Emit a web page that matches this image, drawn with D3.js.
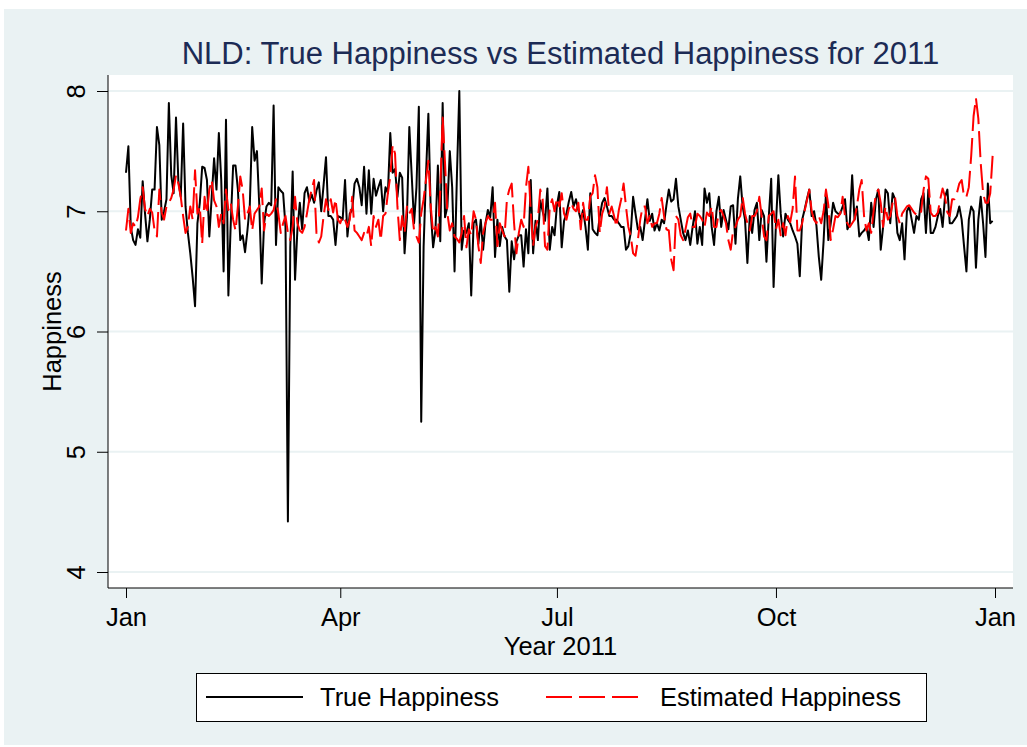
<!DOCTYPE html>
<html>
<head>
<meta charset="utf-8">
<script src="https://cdn.jsdelivr.net/npm/d3@7"></script>
<style>
  body { margin: 0; background: #ffffff; }
  text { font-family: "Liberation Sans", Arial, sans-serif; }
</style>
</head>
<body>
<div id="chart"></div>
<script>
// chart text
const chartTitle = 'NLD: True Happiness vs Estimated Happiness for 2011';
const xTitle = 'Year 2011';
const yTitle = 'Happiness';
const seriesNames = ['True Happiness', 'Estimated Happiness'];

// x axis: one value per day starting Jan 1 2011
const startDate = new Date(2011, 0, 1);
const tickDates = [new Date(2011, 0, 1), new Date(2011, 3, 1), new Date(2011, 6, 1), new Date(2011, 9, 1), new Date(2012, 0, 1)];
const tickLabels = ['Jan', 'Apr', 'Jul', 'Oct', 'Jan'];
const yTicks = [4, 5, 6, 7, 8];

// True Happiness, daily
const trueVals = [
  7.32, 7.54, 6.87, 6.76, 6.72, 6.85, 6.78, 7.25, 6.98, 6.75,
  6.93, 7.18, 7.18, 7.70, 7.55, 6.93, 7.00, 7.10, 7.90, 7.30,
  7.15, 7.78, 7.25, 7.12, 7.73, 7.04, 6.82, 6.65, 6.45, 6.21,
  6.90, 7.07, 7.37, 7.36, 7.26, 6.79, 7.12, 7.44, 7.18, 7.65,
  7.26, 6.50, 7.76, 6.30, 6.90, 7.38, 7.38, 7.18, 6.76, 6.80,
  6.66, 6.84, 7.05, 7.70, 7.42, 7.50, 7.04, 6.40, 6.90, 7.04,
  7.07, 7.05, 7.88, 6.72, 7.20, 7.17, 7.15, 6.87, 4.42, 6.70,
  7.33, 6.43, 6.85, 7.07, 6.85, 7.15, 7.20, 7.08, 7.14, 7.07,
  7.17, 7.24, 7.00, 7.22, 7.45, 6.96, 6.96, 6.93, 6.72, 6.96,
  6.95, 6.93, 7.26, 6.79, 6.98, 7.01, 7.23, 7.27, 7.20, 7.05,
  7.37, 6.98, 7.34, 6.98, 7.27, 7.13, 7.20, 7.26, 7.00, 7.20,
  7.15, 7.65, 7.32, 7.35, 7.12, 7.32, 7.28, 6.65, 6.95, 7.70,
  7.30, 6.90, 7.20, 7.87, 5.25, 6.70, 7.30, 7.81, 7.00, 6.70,
  6.85, 7.38, 6.75, 7.90, 6.95, 7.04, 7.50, 7.20, 6.50, 7.30,
  8.00, 6.68, 6.84, 6.82, 6.90, 6.30, 6.90, 6.93, 6.73, 6.93,
  6.68, 6.90, 7.01, 6.95, 7.20, 6.62, 6.93, 6.71, 6.87, 6.79,
  6.76, 6.33, 6.75, 6.60, 6.75, 6.80, 6.80, 6.54, 6.85, 6.65,
  7.26, 6.65, 6.92, 6.76, 7.09, 7.00, 6.92, 7.19, 6.68, 6.87,
  6.80, 7.05, 7.16, 6.70, 6.92, 6.98, 7.08, 7.16, 7.04, 7.10,
  7.01, 6.93, 7.01, 6.87, 6.68, 7.15, 6.85, 6.82, 6.80, 6.96,
  7.07, 7.11, 7.04, 6.96, 6.96, 6.93, 6.93, 6.90, 6.87, 6.87,
  6.68, 6.71, 6.82, 7.12, 6.98, 6.85, 6.87, 6.76, 6.93, 7.10,
  6.92, 6.98, 6.84, 6.90, 6.84, 6.93, 6.90, 7.05, 7.18, 7.08,
  7.10, 7.27, 7.04, 6.93, 6.82, 6.76, 6.84, 6.72, 6.87, 7.00,
  6.73, 6.87, 6.72, 7.19, 7.07, 7.15, 6.87, 6.72, 7.00, 7.12,
  6.87, 7.01, 6.93, 6.85, 7.04, 7.05, 6.73, 7.10, 7.29, 7.04,
  6.93, 6.57, 6.96, 6.82, 7.01, 7.07, 6.76, 7.01, 6.96, 6.58,
  6.96, 7.27, 6.37, 6.90, 7.30, 6.98, 6.79, 6.98, 6.93, 6.90,
  6.84, 6.79, 6.73, 6.46, 6.93, 7.01, 7.10, 7.18, 6.96, 7.00,
  6.88, 6.62, 6.43, 6.75, 7.15, 6.76, 6.90, 7.07, 7.00, 6.98,
  6.98, 7.04, 7.10, 6.85, 6.90, 7.30, 6.93, 7.04, 6.79, 6.82,
  6.84, 6.87, 6.76, 7.07, 6.87, 7.10, 7.18, 6.68, 6.87, 7.18,
  7.15, 6.90, 7.15, 7.10, 6.82, 6.76, 6.90, 6.60, 7.00, 7.04,
  6.93, 6.82, 6.96, 6.93, 7.10, 7.15, 6.82, 7.18, 6.82, 6.82,
  6.87, 6.96, 7.02, 6.87, 7.12, 7.18, 6.90, 6.90, 6.93, 6.96,
  7.04, 6.93, 6.71, 6.50, 6.93, 7.04, 7.00, 6.53, 6.93, 7.12,
  6.90, 6.62, 7.23, 6.90, 6.92
];

// Estimated Happiness, daily
const estVals = [
  6.84, 7.02, 6.82, 6.90, 6.87, 6.95, 7.10, 7.20, 7.02, 6.96,
  7.02, 6.99, 6.84, 6.79, 7.18, 6.99, 6.93, 7.04, 7.07, 7.11,
  7.18, 7.30, 7.23, 7.12, 6.96, 6.82, 6.87, 7.04, 6.93, 7.34,
  6.98, 7.04, 6.73, 7.12, 6.98, 7.18, 7.26, 7.09, 7.04, 6.87,
  6.98, 6.90, 7.18, 7.01, 7.07, 6.93, 6.84, 7.04, 7.29, 7.18,
  6.93, 6.98, 7.04, 6.84, 6.98, 7.01, 7.04, 7.19, 6.84, 6.98,
  6.96, 6.98, 7.01, 7.10, 6.98, 6.82, 6.90, 6.96, 6.82, 6.76,
  6.87, 7.12, 6.90, 6.84, 6.82, 6.87, 6.98, 7.10, 7.18, 7.26,
  6.82, 6.74, 6.79, 6.96, 7.10, 7.01, 7.10, 6.99, 7.10, 6.93,
  6.90, 6.96, 6.93, 6.87, 6.93, 7.12, 6.84, 6.82, 6.79, 6.76,
  6.82, 6.79, 6.87, 6.71, 6.96, 6.87, 6.93, 6.76, 6.96, 6.98,
  7.15, 7.29, 7.55, 7.48, 7.04, 6.76, 6.96, 6.82, 7.04, 6.98,
  7.02, 6.84, 6.79, 6.74, 6.98, 7.10, 7.26, 7.42, 7.04, 6.82,
  6.87, 6.79, 7.18, 7.78, 7.40, 6.98, 6.84, 6.90, 6.79, 6.77,
  6.74, 6.82, 6.96, 6.70, 6.85, 6.80, 7.00, 6.93, 6.71, 6.57,
  6.82, 6.90, 6.96, 6.93, 6.93, 7.07, 6.71, 6.90, 6.84, 6.79,
  7.10, 7.18, 7.23, 6.90, 6.65, 6.82, 6.93, 6.87, 7.20, 7.37,
  7.00, 6.71, 6.87, 6.93, 7.18, 7.10, 6.71, 6.68, 7.04, 7.10,
  7.00, 7.11, 7.04, 7.15, 6.98, 6.93, 7.02, 7.07, 7.02, 7.00,
  7.07, 6.85, 7.07, 6.93, 6.93, 7.12, 7.15, 7.30, 7.20, 6.82,
  6.98, 7.04, 7.20, 6.98, 7.04, 6.96, 6.87, 7.01, 7.10, 7.23,
  7.04, 6.87, 6.79, 6.65, 6.63, 6.76, 6.93, 7.04, 7.04, 6.90,
  6.96, 6.87, 6.90, 6.90, 6.98, 7.11, 6.96, 6.85, 6.84, 6.60,
  6.51, 6.96, 6.93, 6.80, 6.76, 6.85, 6.95, 6.98, 6.87, 6.87,
  6.98, 6.96, 6.93, 6.87, 6.99, 6.96, 7.04, 6.87, 6.87, 6.99,
  7.01, 6.96, 6.90, 6.76, 6.68, 6.84, 6.87, 6.93, 6.96, 7.12,
  6.98, 6.90, 6.84, 6.96, 6.96, 7.00, 7.12, 6.96, 6.79, 6.76,
  6.96, 6.98, 7.00, 6.85, 6.93, 6.80, 6.90, 6.80, 6.96, 6.91,
  7.02, 7.29, 6.84, 6.84, 6.90, 7.00, 7.09, 7.18, 7.00, 6.93,
  6.90, 6.96, 6.90, 7.00, 7.18, 7.05, 6.76, 6.85, 6.96, 6.95,
  6.98, 7.12, 6.96, 6.90, 6.87, 6.90, 6.93, 7.04, 7.18, 7.26,
  6.96, 6.84, 6.90, 6.82, 7.00, 7.15, 7.18, 7.07, 6.87, 7.04,
  6.93, 6.96, 7.07, 7.12, 6.96, 6.90, 6.98, 7.01, 7.04, 7.05,
  7.02, 6.99, 6.97, 6.96, 7.00, 7.18, 7.29, 7.27, 6.99, 6.96,
  6.96, 6.99, 7.10, 7.19, 7.12, 6.99, 6.96, 7.10, 7.10, 7.15,
  7.23, 7.26, 7.12, 7.12, 7.20, 7.46, 7.79, 7.94, 7.77, 7.40,
  7.15, 7.07, 7.07, 7.15, 7.46
];

const width = 1027;
const height = 747;
const plot = { left: 108, right: 1013, top: 75, bottom: 588 };
const bgColor = '#eaf2f3';
const dash = '26,7';
const labelSize = '25.5px';

const svg = d3.select('#chart')
  .append('svg')
  .attr('width', width)
  .attr('height', height);

// graph region + plot region
svg.append('rect')
  .attr('x', 4).attr('y', 9)
  .attr('width', width - 4).attr('height', 736)
  .attr('fill', bgColor);

svg.append('rect')
  .attr('x', plot.left).attr('y', plot.top)
  .attr('width', plot.right - plot.left).attr('height', plot.bottom - plot.top)
  .attr('fill', '#ffffff');

// scales
const x = d3.scaleTime()
  .domain([tickDates[0], tickDates[tickDates.length - 1]])
  .range([126, 995]);

const y = d3.scaleLinear()
  .domain([4, 8])
  .range([572, 91]);

// grid lines
svg.append('g')
  .selectAll('line')
  .data(yTicks)
  .enter()
  .append('line')
  .attr('x1', plot.left).attr('x2', plot.right)
  .attr('y1', d => y(d)).attr('y2', d => y(d))
  .attr('stroke', bgColor)
  .attr('stroke-width', 2);

// series
const dayOf = i => d3.timeDay.offset(startDate, i);
const line = d3.line()
  .x((d, i) => x(dayOf(i)))
  .y(d => y(d));

svg.append('path')
  .datum(trueVals)
  .attr('d', line)
  .attr('fill', 'none')
  .attr('stroke', '#000000')
  .attr('stroke-width', 2)
  .attr('stroke-linejoin', 'round');

svg.append('path')
  .datum(estVals)
  .attr('d', line)
  .attr('fill', 'none')
  .attr('stroke', '#ff0000')
  .attr('stroke-width', 2)
  .attr('stroke-dasharray', dash)
  .attr('stroke-linejoin', 'round');

// y axis
const yAxis = svg.append('g')
  .attr('transform', 'translate(' + plot.left + ',0)')
  .call(d3.axisLeft(y).tickValues(yTicks).tickSize(11).tickFormat(d3.format('d')));
yAxis.select('.domain').remove();
yAxis.selectAll('.tick line').attr('stroke', '#000');
yAxis.selectAll('text')
  .attr('x', 0).attr('dy', 0)
  .attr('transform', 'translate(-23,0) rotate(-90)')
  .style('text-anchor', 'middle')
  .style('font-size', labelSize)
  .attr('fill', '#000');

// x axis
const xAxis = svg.append('g')
  .attr('transform', 'translate(0,' + plot.bottom + ')')
  .call(d3.axisBottom(x).tickValues(tickDates).tickSize(10)
    .tickFormat((d, i) => tickLabels[i]));
xAxis.select('.domain').remove();
xAxis.selectAll('.tick line').attr('stroke', '#000');
xAxis.selectAll('text')
  .attr('y', 19.5)
  .style('font-size', labelSize)
  .attr('fill', '#000');

// axis lines
svg.append('line')
  .attr('x1', plot.left).attr('x2', plot.left)
  .attr('y1', plot.top).attr('y2', plot.bottom)
  .attr('stroke', '#000').attr('stroke-width', 1);
svg.append('line')
  .attr('x1', plot.left).attr('x2', plot.right)
  .attr('y1', plot.bottom).attr('y2', plot.bottom)
  .attr('stroke', '#000').attr('stroke-width', 1);

// titles
svg.append('text')
  .attr('x', (plot.left + plot.right) / 2).attr('y', 64)
  .attr('text-anchor', 'middle')
  .style('font-size', '31px')
  .attr('fill', '#1c2b55')
  .text(chartTitle);

svg.append('text')
  .attr('x', (plot.left + plot.right) / 2).attr('y', 655)
  .attr('text-anchor', 'middle')
  .style('font-size', labelSize)
  .text(xTitle);

svg.append('text')
  .attr('transform', 'translate(61,' + (plot.top + plot.bottom) / 2 + ') rotate(-90)')
  .attr('text-anchor', 'middle')
  .style('font-size', labelSize)
  .text(yTitle);

// legend
const legend = svg.append('g');
legend.append('rect')
  .attr('x', 196.5).attr('y', 673.5)
  .attr('width', 730).attr('height', 48)
  .attr('fill', '#fff')
  .attr('stroke', '#000');

const legendItems = [
  { name: seriesNames[0], x1: 206, x2: 303, tx: 320, color: '#000000', dash: null },
  { name: seriesNames[1], x1: 546, x2: 642, tx: 660, color: '#ff0000', dash: dash }
];
legendItems.forEach(item => {
  legend.append('line')
    .attr('x1', item.x1).attr('x2', item.x2)
    .attr('y1', 697).attr('y2', 697)
    .attr('stroke', item.color)
    .attr('stroke-width', 2)
    .attr('stroke-dasharray', item.dash);
  legend.append('text')
    .attr('x', item.tx).attr('y', 697)
    .attr('dy', '0.36em')
    .style('font-size', labelSize)
    .text(item.name);
});
</script>
</body>
</html>
